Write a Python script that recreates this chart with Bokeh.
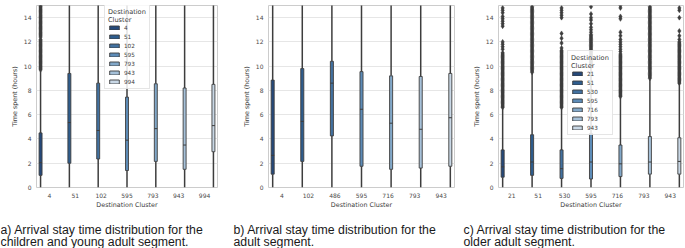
from bokeh.plotting import figure
from bokeh.models import (Range1d, FixedTicker, Label, Legend, LegendItem,
                          ColumnDataSource)
from bokeh.layouts import row, column
from bokeh.embed import file_html
from bokeh.resources import INLINE

# ---------------- data ----------------
PALETTE = ["#25497a", "#2e5d8e", "#4271a0", "#5d8cb8", "#82a8c9", "#a6c1d9", "#c9d8e6"]
Y_TICKS = [0, 2, 4, 6, 8, 10, 12, 14]

# panel a : children and young adult segment
cats_a = ["4", "51", "102", "595", "793", "943", "994"]
q1_a = [1.0, 2.0, 2.35, 1.4, 2.15, 1.5, 2.95]
med_a = [2.05, 5.35, 4.7, 3.9, 4.85, 3.5, 5.1]
q3_a = [4.5, 9.4, 8.6, 7.45, 8.55, 8.2, 8.5]
lo_a = [0.0, 0.0, 0.0, 0.0, 0.0, 0.0, 0.0]
hi_a = [9.6, 20.5, 18.0, 16.5, 18.1, 18.2, 16.8]
out_a_4 = [9.7, 9.8, 9.9, 10.0, 10.1, 10.2, 10.3, 10.4, 10.5, 10.6, 10.7, 10.8, 10.9,
           11.0, 11.1, 11.2, 11.3, 11.4, 11.5, 11.6, 11.7, 11.8, 11.9, 12.0, 12.1,
           12.2, 12.4, 12.5, 12.6, 12.7, 12.8, 12.9, 13.0, 13.1, 13.2, 13.3, 13.4,
           13.5, 13.6, 13.7, 13.8, 13.9, 14.0, 14.1, 14.2, 14.3, 14.4, 14.5, 14.6,
           14.7, 14.8, 14.9, 15.0]
fliers_a = [out_a_4, [], [], [], [], [], []]

# panel b : adult segment
cats_b = ["4", "102", "486", "595", "716", "793", "943"]
q1_b = [1.1, 2.15, 4.25, 1.75, 1.5, 1.6, 1.75]
med_b = [2.65, 5.45, 8.6, 6.45, 5.3, 4.8, 5.75]
q3_b = [8.85, 9.8, 10.4, 9.55, 9.2, 9.15, 9.4]
lo_b = [0.0, 0.0, 0.0, 0.0, 0.0, 0.0, 0.0]
hi_b = [20.4, 21.3, 19.6, 21.2, 20.8, 20.5, 20.9]
fliers_b = [[], [], [], [], [], [], []]

# panel c : older adult segment
cats_c = ["21", "51", "530", "595", "716", "793", "943"]
q1_c = [0.85, 1.0, 0.75, 0.7, 0.9, 1.1, 1.1]
med_c = [1.7, 2.1, 1.55, 2.1, 1.95, 2.1, 2.15]
q3_c = [3.1, 4.35, 3.1, 4.45, 3.5, 4.2, 4.1]
lo_c = [0.0, 0.0, 0.0, 0.0, 0.0, 0.0, 0.0]
hi_c = [6.5, 9.4, 6.5, 9.9, 7.4, 8.9, 8.5]
out_c_21 = [6.6, 6.7, 6.8, 6.9, 7.0, 7.1, 7.2, 7.3, 7.4, 7.5, 7.6, 7.7, 7.8, 7.9, 8.0,
            8.1, 8.2, 8.3, 8.4, 8.5, 8.6, 8.7, 8.8, 8.9, 9.0, 9.1, 9.2, 9.3, 9.4, 9.5,
            9.6, 9.7, 9.8, 9.9, 10.0, 10.1, 10.2, 10.3, 10.4, 10.5, 10.6, 10.7, 10.8,
            10.9, 11.0, 11.1, 11.4, 11.6, 11.8, 12.0, 13.3, 13.5, 13.7, 13.9, 14.1,
            14.4, 14.6, 14.8]
out_c_51 = [9.5, 9.6, 9.7, 9.8, 9.9, 10.0, 10.1, 10.2, 10.3, 10.4, 10.5, 10.6, 10.7,
            10.8, 10.9, 11.0, 11.1, 11.2, 11.3, 11.4, 11.5, 11.6, 11.7, 11.8, 11.9,
            12.0, 12.1, 12.2, 12.3, 12.4, 12.5, 12.6, 12.7, 12.8, 12.9, 13.0, 13.1,
            13.2, 13.3, 13.4, 13.5, 13.6, 13.7, 13.8, 13.9, 14.0, 14.1, 14.2, 14.3,
            14.4, 14.5, 14.6, 14.7, 14.8, 14.9]
out_c_530 = [6.6, 6.7, 6.8, 6.9, 7.0, 7.1, 7.2, 7.3, 7.4, 7.5, 7.6, 7.7, 7.8, 7.9,
             8.0, 8.1, 8.2, 8.3, 8.4, 8.5, 8.6, 8.7, 8.8, 8.9, 9.0, 9.1, 9.2, 9.3,
             9.4, 9.5, 9.6, 9.7, 9.8, 9.9, 10.0, 10.1, 10.2, 10.3, 10.4, 10.5, 10.6,
             10.7, 10.8, 10.9, 11.0, 11.1, 11.2, 11.3, 11.5, 11.9, 12.3, 12.7, 14.0,
             14.2, 14.4, 14.6, 14.8]
out_c_595 = [10.0, 10.1, 10.2, 10.3, 10.4, 10.5, 10.6, 10.7, 10.8, 10.9, 11.0, 11.1,
             11.2, 11.3, 11.4, 11.5, 11.6, 11.7, 11.8, 11.9, 12.0, 12.1, 12.2, 12.3,
             12.4, 12.5, 12.6, 12.8, 13.0, 13.2, 13.5, 13.8, 14.0, 14.3, 14.9]
out_c_716 = [7.5, 7.6, 7.7, 7.8, 7.9, 8.0, 8.1, 8.2, 8.3, 8.4, 8.5, 8.6, 8.7, 8.8,
             8.9, 9.0, 9.1, 9.2, 9.3, 9.4, 9.5, 9.6, 9.7, 9.8, 9.9, 10.0, 10.1, 10.2,
             10.3, 10.4, 10.5, 10.6, 10.7, 10.8, 10.9, 11.0, 11.2, 11.4, 11.6, 11.8,
             12.0, 12.2, 12.5, 12.8, 13.9, 14.1, 14.8, 15.0]
out_c_793 = [9.0, 9.1, 9.2, 9.3, 9.4, 9.5, 9.6, 9.7, 9.8, 9.9, 10.0, 10.1, 10.2, 10.3,
             10.4, 10.5, 10.6, 10.7, 10.8, 10.9, 11.0, 11.1, 11.2, 11.3, 11.4, 11.5,
             11.6, 11.7, 11.8, 11.9, 12.0, 12.1, 12.2, 12.3, 12.4, 12.5, 12.6, 12.7,
             12.8, 12.9, 13.0, 13.1, 13.2, 13.3, 13.4, 13.5, 13.6, 13.7, 13.8, 13.9,
             14.0, 14.1, 14.2, 14.3, 14.4, 14.5, 14.6, 14.7, 14.8, 14.9]
out_c_943 = [8.6, 8.7, 8.8, 8.9, 9.0, 9.1, 9.2, 9.3, 9.4, 9.5, 9.6, 9.7, 9.8, 9.9,
             10.0, 10.1, 10.2, 10.3, 10.4, 10.5, 10.6, 10.7, 10.8, 10.9, 11.0, 11.1,
             11.2, 11.3, 11.4, 11.5, 11.6, 11.7, 11.8, 11.9, 12.0, 12.2, 12.5, 12.9,
             14.0, 14.6, 14.8]
fliers_c = [out_c_21, out_c_51, out_c_530, out_c_595, out_c_716, out_c_793, out_c_943]

cap_a = ["a) Arrival stay time distribution for the", "children and young adult segment."]
cap_b = ["b) Arrival stay time distribution for the", "adult segment."]
cap_c = ["c) Arrival stay time distribution for the", "older adult segment."]

# ---------------- drawing ----------------
EDGE = "#3d3d3d"
TOP_H = 218
CAP_H = 30


def panel(cats, q1, med, q3, lo, hi, fliers, width, bl, br, bt, frame_h,
          legend_xy=None):
    n = len(cats)
    w = 0.8 / n
    xs = [i + (i - (n - 1) / 2) * w for i in range(n)]
    p = figure(width=width, height=TOP_H, output_backend="svg", toolbar_location=None,
               x_range=Range1d(-0.5, n - 0.5), y_range=Range1d(0, 15),
               min_border_left=bl, min_border_right=br, min_border_top=bt,
               min_border_bottom=TOP_H - bt - frame_h,
               background_fill_color="white", border_fill_color="white",
               outline_line_color="#cccccc", outline_line_width=1)
    p.xgrid.visible = False
    p.ygrid.grid_line_color = "#e6e6e6"
    p.ygrid.grid_line_width = 1

    src = ColumnDataSource(dict(x=xs, q1=q1, q3=q3, med=med, lo=lo, hi=hi,
                                left=[x - w / 2 for x in xs],
                                right=[x + w / 2 for x in xs],
                                color=PALETTE[:n]))
    p.segment(x0="x", y0="lo", x1="x", y1="q1", source=src, line_color=EDGE, line_width=1.5)
    p.segment(x0="x", y0="q3", x1="x", y1="hi", source=src, line_color=EDGE, line_width=1.5)
    r = p.vbar(x="x", width=w, bottom="q1", top="q3", source=src, fill_color="color",
               line_color=EDGE, line_width=0.9)
    p.segment(x0="left", y0="med", x1="right", y1="med", source=src,
              line_color=EDGE, line_width=1)

    fx, fy = [], []
    for x, vals in zip(xs, fliers):
        fx += [x] * len(vals)
        fy += vals
    if fx:
        p.scatter(fx, fy, marker="diamond", size=5, fill_color=EDGE, line_color=EDGE,
                  line_width=0.5)

    p.xaxis.ticker = FixedTicker(ticks=list(range(n)))
    p.xaxis.major_label_overrides = {i: c for i, c in enumerate(cats)}
    p.yaxis.ticker = FixedTicker(ticks=Y_TICKS)
    p.xaxis.axis_label = "Destination Cluster"
    p.yaxis.axis_label = "Time spent (hours)"
    for ax in (p.xaxis[0], p.yaxis[0]):
        ax.axis_line_color = None
        ax.major_tick_line_color = None
        ax.minor_tick_line_color = None
        ax.major_tick_out = 0
        ax.major_tick_in = 0
        ax.minor_tick_out = 0
        ax.minor_tick_in = 0
        ax.major_label_text_font = "DejaVu Sans"
        ax.major_label_text_font_size = "6px"
        ax.major_label_text_color = "#4a4a4a"
        ax.major_label_standoff = 5
        ax.axis_label_text_font = "DejaVu Sans"
        ax.axis_label_text_font_size = "6.4px"
        ax.axis_label_text_font_style = "normal"
        ax.axis_label_text_color = "#3a3a3a"
    p.xaxis.axis_label_standoff = 0
    p.yaxis.axis_label_standoff = 2

    if legend_xy is not None:
        items = [LegendItem(label=c, renderers=[r], index=i) for i, c in enumerate(cats)]
        leg = Legend(items=items, location=legend_xy, title="Destination\nCluster",
                     title_text_font="DejaVu Sans", title_text_font_size="6.6px",
                     title_text_font_style="normal", title_text_color="#3a3a3a",
                     title_standoff=0,
                     label_text_font="DejaVu Sans", label_text_font_size="5.7px",
                     label_text_color="#3a3a3a", label_height=7, label_standoff=4,
                     glyph_width=12, glyph_height=5, spacing=2, padding=3, margin=0,
                     border_line_color="#cccccc", border_line_width=1,
                     background_fill_color="white", background_fill_alpha=0.85)
        p.add_layout(leg, "center")
    return p


def caption_fig(lines, width, x0):
    c = figure(width=width, height=CAP_H, output_backend="svg", toolbar_location=None,
               x_range=Range1d(0, 1), y_range=Range1d(0, 1),
               x_axis_type=None, y_axis_type=None,
               min_border_left=0, min_border_right=0, min_border_top=0,
               min_border_bottom=0, outline_line_color=None,
               background_fill_color="white", border_fill_color="white")
    c.grid.visible = False
    for k, line in enumerate(lines):
        c.add_layout(Label(x=x0, y=CAP_H - 11 - k * 12, x_units="screen",
                           y_units="screen", text=line, text_font="Liberation Sans",
                           text_font_size="12.3px", text_baseline="middle",
                           text_color="#1a1a1a"))
    return c


pa = panel(cats_a, q1_a, med_a, q3_a, lo_a, hi_a, fliers_a,
           width=230, bl=36, br=13, bt=5, frame_h=182, legend_xy=(68, 98))
pb = panel(cats_b, q1_b, med_b, q3_b, lo_b, hi_b, fliers_b,
           width=230, bl=38, br=6, bt=1, frame_h=186)
pc = panel(cats_c, q1_c, med_c, q3_c, lo_c, hi_c, fliers_c,
           width=225, bl=38, br=2, bt=4, frame_h=185, legend_xy=(69, 52))

ca = caption_fig(cap_a, 230, 0)
cb = caption_fig(cap_b, 230, 3)
cc = caption_fig(cap_c, 225, 3)

layout = column(row(pa, pb, pc), row(ca, cb, cc))
open("out.html", "w").write(file_html(layout, INLINE))
